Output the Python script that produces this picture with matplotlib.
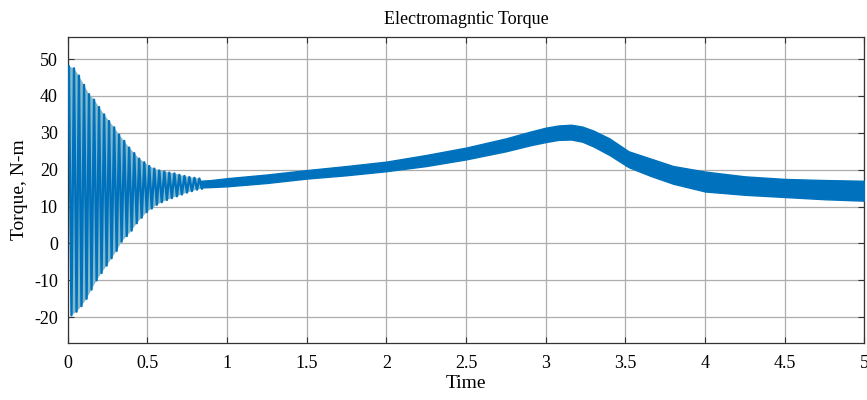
import matplotlib
matplotlib.use("Agg")
import matplotlib.pyplot as plt
import numpy as np

# ---------------------------------------------------------------------------
# Data (Torque in N-m vs time in s)
# ---------------------------------------------------------------------------
# start-up transient: individual peaks / troughs
peak_t = [0.008, 0.040, 0.071, 0.103, 0.134, 0.166, 0.197, 0.229, 0.260, 0.292,
          0.323, 0.355, 0.386, 0.418, 0.449, 0.481, 0.512, 0.544, 0.575, 0.607,
          0.638, 0.670, 0.701, 0.733, 0.764, 0.796, 0.827]
peak_v = [48.0, 47.5, 45.5, 43.0, 40.5, 39.0, 37.0, 35.0, 33.2, 31.5,
          29.5, 27.8, 26.0, 24.5, 23.0, 22.0, 21.0, 20.3, 19.8, 19.5,
          19.2, 19.0, 18.6, 18.3, 18.0, 17.8, 17.6]
trough_t = [0.024, 0.056, 0.087, 0.119, 0.150, 0.182, 0.213, 0.245, 0.276, 0.308,
            0.339, 0.371, 0.402, 0.434, 0.465, 0.497, 0.528, 0.560, 0.591, 0.623,
            0.654, 0.686, 0.717, 0.749, 0.780, 0.812, 0.843]
trough_v = [-19.5, -18.5, -17.0, -15.0, -12.5, -10.0, -8.0, -6.0, -4.0, -2.0,
            0.5, 2.0, 3.5, 5.5, 7.0, 8.5, 9.5, 10.5, 11.2, 11.8,
            12.3, 12.8, 13.3, 13.8, 14.2, 14.6, 14.9]

# steady part: ripple band (upper / lower envelope)
band_t = [0.835, 0.9, 1.0, 1.25, 1.5, 1.75, 2.0, 2.25, 2.5, 2.75, 2.9, 3.0, 3.08,
          3.16, 3.23, 3.3, 3.4, 3.52, 3.66, 3.8, 4.0, 4.25, 4.5, 4.75, 5.0]
band_hi = [17.0, 17.2, 17.7, 18.7, 19.9, 21.0, 22.2, 24.0, 26.0, 28.5, 30.3, 31.4, 32.0,
           32.2, 31.7, 30.6, 28.5, 25.0, 23.0, 21.0, 19.5, 18.2, 17.5, 17.2, 17.0]
band_lo = [15.2, 15.3, 15.5, 16.4, 17.6, 18.5, 19.6, 21.0, 22.8, 25.0, 26.6, 27.5, 28.1,
           28.2, 27.6, 26.3, 24.0, 20.7, 18.3, 16.2, 14.1, 13.2, 12.6, 12.0, 11.6]

x_ticks = [0, 0.5, 1, 1.5, 2, 2.5, 3, 3.5, 4, 4.5, 5]
x_tick_labels = ['0', '0.5', '1', '1.5', '2', '2.5', '3', '3.5', '4', '4.5', '5']
y_ticks = [-20, -10, 0, 10, 20, 30, 40, 50]

BLUE = '#0072BD'
TEAL = '#84b9c9'

plt.rcParams['font.family'] = ['Liberation Serif', 'DejaVu Serif']
plt.rcParams['axes.unicode_minus'] = False

fig = plt.figure(figsize=(8.67, 4.0), dpi=100)
ax = fig.add_axes([0.078, 0.1425, 0.919, 0.765])

# transient: light area covered by the strokes, then the strokes themselves
poly_x = peak_t + trough_t[::-1]
poly_y = peak_v + trough_v[::-1]
ax.fill(poly_x, poly_y, color=TEAL, lw=0, zorder=2)

zz_t, zz_v = [], []
for pt, pv, tt, tv in zip(peak_t, peak_v, trough_t, trough_v):
    zz_t += [pt, tt]
    zz_v += [pv, tv]
ax.plot(zz_t, zz_v, color=BLUE, lw=1.7, zorder=3)

# ripple band
ax.fill_between(band_t, band_lo, band_hi, color=BLUE, lw=1.0, edgecolor=BLUE, zorder=3)

ax.set_xlim(0, 5)
ax.set_ylim(-27, 56)
ax.set_xticks(x_ticks)
ax.set_xticklabels(x_tick_labels)
ax.set_yticks(y_ticks)
ax.tick_params(direction='in', labelsize=13, length=4, color='#333333',
               top=True, right=True)
ax.tick_params(axis='x', pad=9)
ax.tick_params(axis='y', pad=7)
ax.grid(True, color='#adadad', lw=0.9)
ax.set_axisbelow(True)
for s in ax.spines.values():
    s.set_color('#333333')
    s.set_linewidth(0.9)

ax.set_title('Electromagntic Torque', fontsize=13, pad=9)
ax.set_xlabel('Time', fontsize=14, labelpad=2)
ax.set_ylabel('Torque, N-m', fontsize=14, labelpad=4)

fig.savefig('out.png', dpi=100)
